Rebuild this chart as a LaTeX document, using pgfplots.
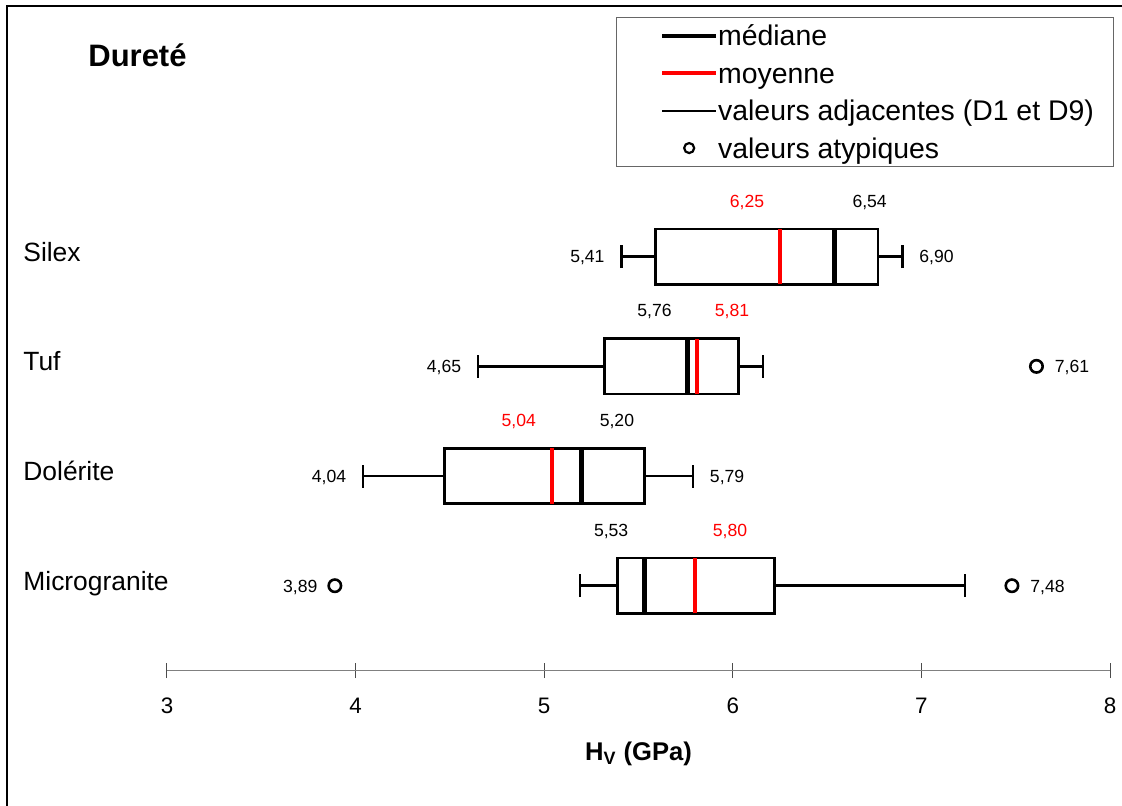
\documentclass[border=0pt]{standalone}
\usepackage{pgfplots}
\pgfplotsset{compat=1.18}
\usepgfplotslibrary{statistics}
\usepackage{fontspec}
\setmainfont{Liberation Sans}

\newcommand{\fs}[1]{\fontsize{#1}{#1}\selectfont}
\tikzset{
  vlab/.style={font=\fs{8.8}, inner sep=0pt, yshift=-3.15pt},
  cat/.style={font=\fs{13.2}, inner sep=0pt, anchor=base west},
}

\begin{document}
\begin{tikzpicture}
\begin{axis}[
  scale only axis,
  width=471.5pt, height=327.65pt,
  xmin=3, xmax=8, ymin=0.225, ymax=6.2,
  axis y line=none, axis x line=bottom,
  axis line style={-, draw=black!50, line width=0.75pt},
  every outer x axis line/.append style={-},
  xtick={3,...,8}, ytick=\empty,
  tick align=center, major tick length=7.5pt,
  tick style={black!70, line width=0.5pt},
  /pgf/number format/assume math mode=true,
  xticklabel style={font=\fs{11.2}, yshift=-6.5pt},
  clip=false,
  boxplot/draw direction=x,
  boxplot/box extend=0.505,
  boxplot/whisker extend=0.21,
  boxplot/every box/.style={draw=black, line width=1.35pt},
  boxplot/every whisker/.style={black, line width=1.25pt},
  boxplot/every median/.style={black, line width=2.5pt},
  outl/.style={forget plot, black, mark=o, mark size=3.1pt,
    mark options={black, solid, line width=1.3pt}},
  mean/.style={forget plot, red, line width=2pt},
  legend cell align=left,
  legend style={at={(0.4761,0.998)}, anchor=north west,
    draw=black!60, line width=0.6pt, fill=white,
    inner xsep=10pt, inner ysep=3.75pt, row sep=8pt,
    font=\fs{14.2},
    nodes={inner sep=0pt, text height=10.4pt, text depth=0.35pt},
    /tikz/every even column/.append style={column sep=5pt}},
]

% Silex
\addplot[outl, boxplot prepared={draw position=4,
  lower whisker=5.41, lower quartile=5.59, median=6.54,
  upper quartile=6.77, upper whisker=6.90}] coordinates {};
\addplot[mean] coordinates {(6.25,3.7475) (6.25,4.2525)};

% Tuf
\addplot[outl, boxplot prepared={draw position=3,
  lower whisker=4.65, lower quartile=5.32, median=5.76,
  upper quartile=6.03, upper whisker=6.16}]
  table[row sep=\\, y index=0] {\\ 7.61\\};
\addplot[mean] coordinates {(5.81,2.7475) (5.81,3.2525)};

% Dolerite
\addplot[outl, boxplot prepared={draw position=2,
  lower whisker=4.04, lower quartile=4.47, median=5.20,
  upper quartile=5.53, upper whisker=5.79}] coordinates {};
\addplot[mean] coordinates {(5.04,1.7475) (5.04,2.2525)};

% Microgranite
\addplot[outl, boxplot prepared={draw position=1,
  lower whisker=5.19, lower quartile=5.39, median=5.53,
  upper quartile=6.22, upper whisker=7.23}]
  table[row sep=\\, y index=0] {\\ 3.89\\ 7.48\\};
\addplot[mean] coordinates {(5.80,0.7475) (5.80,1.2525)};

% legend
\addlegendimage{legend image code/.code={\path (0pt,0pt) (39.5pt,0pt);
  \draw[black, line width=2pt] (12.5pt,0pt) -- (39.5pt,0pt);}}
\addlegendentry{médiane}
\addlegendimage{legend image code/.code={\path (0pt,0pt) (39.5pt,0pt);
  \draw[red, line width=2pt] (12.5pt,0pt) -- (39.5pt,0pt);}}
\addlegendentry{moyenne}
\addlegendimage{legend image code/.code={\path (0pt,0pt) (39.5pt,0pt);
  \draw[black, line width=1pt] (12.5pt,0pt) -- (39.5pt,0pt);}}
\addlegendentry{valeurs adjacentes (D1 et D9)}
\addlegendimage{legend image code/.code={\path (0pt,0pt) (39.5pt,0pt);
  \draw[black, line width=1.1pt] (26pt,0pt) circle (2.5pt);}}
\addlegendentry{valeurs atypiques}

% category names
\node[cat] at (axis cs:2.2365,3.959) {Silex};
\node[cat] at (axis cs:2.2365,2.959) {Tuf};
\node[cat] at (axis cs:2.2365,1.959) {Dolérite};
\node[cat] at (axis cs:2.2365,0.959) {Microgranite};

% values above the boxes
\node[vlab, anchor=base, red, xshift=-16.5pt] at (axis cs:6.25,4.508) {6,25};
\node[vlab, anchor=base, xshift=17.5pt] at (axis cs:6.54,4.508) {6,54};
\node[vlab, anchor=base, xshift=-16.5pt] at (axis cs:5.76,3.508) {5,76};
\node[vlab, anchor=base, red, xshift=17.5pt] at (axis cs:5.81,3.508) {5,81};
\node[vlab, anchor=base, red, xshift=-16.5pt] at (axis cs:5.04,2.508) {5,04};
\node[vlab, anchor=base, xshift=17.5pt] at (axis cs:5.20,2.508) {5,20};
\node[vlab, anchor=base, xshift=-16.5pt] at (axis cs:5.53,1.508) {5,53};
\node[vlab, anchor=base, red, xshift=17.5pt] at (axis cs:5.80,1.508) {5,80};

% whisker and outlier values
\node[vlab, anchor=base east, xshift=-8.3pt] at (axis cs:5.41,4) {5,41};
\node[vlab, anchor=base west, xshift=8.2pt] at (axis cs:6.90,4) {6,90};
\node[vlab, anchor=base east, xshift=-8.3pt] at (axis cs:4.65,3) {4,65};
\node[vlab, anchor=base west, xshift=9pt] at (axis cs:7.61,3) {7,61};
\node[vlab, anchor=base east, xshift=-8.3pt] at (axis cs:4.04,2) {4,04};
\node[vlab, anchor=base west, xshift=8.2pt] at (axis cs:5.79,2) {5,79};
\node[vlab, anchor=base east, xshift=-8.5pt] at (axis cs:3.89,1) {3,89};
\node[vlab, anchor=base west, xshift=9pt] at (axis cs:7.48,1) {7,48};

% title and axis label
\node[anchor=base west, font=\fs{15.5}\bfseries, inner sep=0pt] at (axis cs:2.581,5.734) {Dureté};
\node[font=\fs{12.8}\bfseries] at (rel axis cs:0.5,0) [yshift=-41.6pt] {H\textsubscript{V} (GPa)};
\end{axis}

% frame
\draw[line width=1pt] (-79.85pt,-80pt) -- (-79.85pt,332.5pt) -- (490pt,332.5pt);
\pgfresetboundingbox
\useasboundingbox (-83.5pt,-67.15pt) rectangle (477.5pt,335.35pt);
\end{tikzpicture}
\end{document}
